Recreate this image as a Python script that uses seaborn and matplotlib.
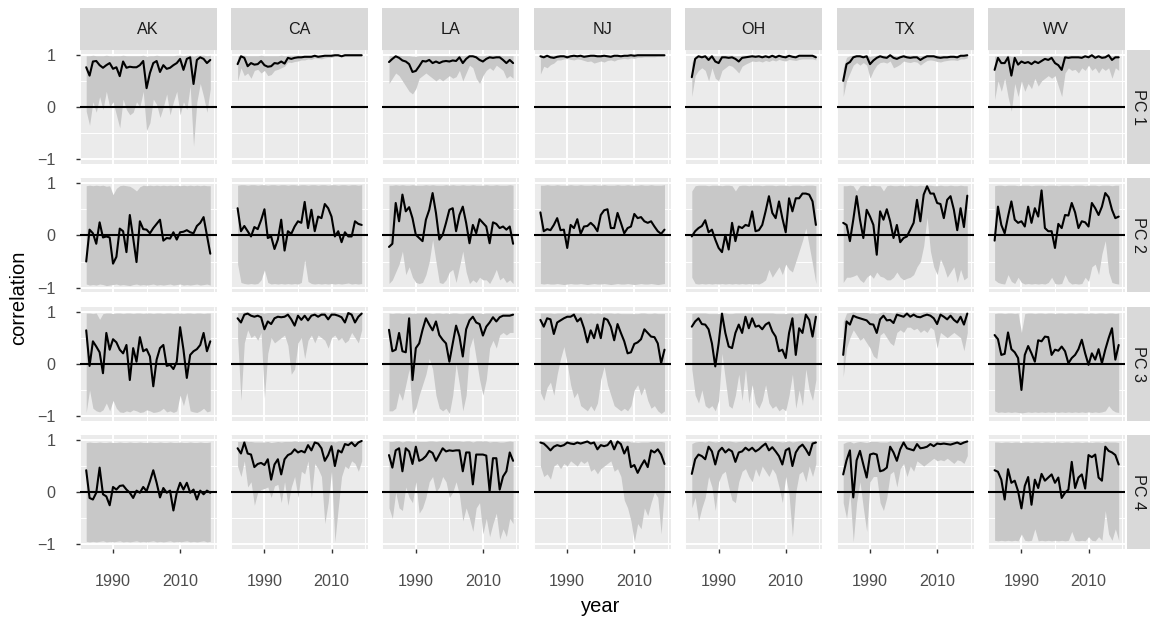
#!/usr/bin/env python
# Rolling correlation by state and principal component, ggplot-like facet grid.

import matplotlib
matplotlib.use('Agg')
from matplotlib import pyplot as plt
import pandas as pd
import seaborn as sns

YEARS = list(range(1982, 2020))
STATES = ['AK', 'CA', 'LA', 'NJ', 'OH', 'TX', 'WV']
PCS = ['PC 1', 'PC 2', 'PC 3', 'PC 4']
Y_TICKS = [-1, 0, 1]
Y_TICK_LABELS = ['\u22121', '0', '1']
X_TICKS = [1990, 2010]
X_TICK_LABELS = ['1990', '2010']

# ---- PC 1 ----
ak_pc1 = [0.76, 0.60, 0.87, 0.88, 0.80, 0.75, 0.80, 0.84, 0.73, 0.76, 0.59, 0.87, 0.75, 0.77, 0.76, 0.76, 0.80, 0.88, 0.36,
          0.65, 0.84, 0.88, 0.67, 0.80, 0.73, 0.75, 0.80, 0.84, 0.92, 0.71, 0.92, 0.95, 0.44, 0.90, 0.95, 0.92, 0.84, 0.90]
ak_pc1_lo = [-0.08, -0.35, 0.10, -0.10, 0.20, -0.05, 0.30, 0.00, 0.10, -0.15, -0.40, 0.15, -0.05, -0.15, -0.10, 0.10, 0.00, 0.30, -0.45,
             -0.30, 0.15, 0.05, -0.20, 0.00, 0.25, -0.15, 0.10, 0.30, -0.15, 0.10, -0.05, 0.40, -0.75, 0.10, 0.45, 0.20, -0.10, 0.35]
ak_pc1_hi = [0.98, 0.98, 0.99, 0.98, 0.98, 0.98, 0.99, 0.98, 0.98, 0.98, 0.98, 0.99, 0.98, 0.98, 0.98, 0.98, 0.98, 0.99, 0.97,
             0.98, 0.98, 0.99, 0.98, 0.98, 0.98, 0.98, 0.98, 0.99, 0.99, 0.98, 0.99, 0.99, 0.97, 0.99, 0.99, 0.99, 0.98, 0.99]
ca_pc1 = [0.82, 0.97, 0.94, 0.78, 0.84, 0.81, 0.82, 0.88, 0.80, 0.77, 0.78, 0.84, 0.83, 0.87, 0.83, 0.94, 0.92, 0.94, 0.95,
          0.95, 0.96, 0.96, 0.96, 0.98, 0.96, 0.97, 0.98, 0.98, 0.98, 0.99, 0.99, 0.97, 0.99, 0.99, 0.99, 0.99, 0.99, 0.99]
ca_pc1_lo = [0.50, 0.75, 0.60, 0.65, 0.55, 0.70, 0.72, 0.65, 0.70, 0.60, 0.62, 0.70, 0.72, 0.75, 0.78, 0.86, 0.85, 0.87, 0.88,
             0.90, 0.90, 0.92, 0.91, 0.94, 0.93, 0.92, 0.94, 0.95, 0.95, 0.97, 0.97, 0.96, 0.97, 0.97, 0.97, 0.97, 0.97, 0.97]
ca_pc1_hi = [0.97, 0.99, 0.99, 0.98, 0.98, 0.98, 0.98, 0.99, 0.98, 0.98, 0.98, 0.98, 0.98, 0.99, 0.98, 0.99, 0.99, 0.99, 0.99,
             0.99, 0.99, 0.99, 0.99, 0.995, 0.99, 0.99, 0.995, 0.995, 0.995, 0.995, 0.995, 0.99, 0.995, 0.995, 0.995, 0.995, 0.995, 0.995]
la_pc1 = [0.86, 0.92, 0.97, 0.94, 0.89, 0.87, 0.82, 0.67, 0.69, 0.78, 0.88, 0.87, 0.90, 0.84, 0.87, 0.84, 0.87, 0.88, 0.87,
          0.89, 0.88, 0.95, 0.84, 0.92, 0.97, 0.97, 0.95, 0.90, 0.87, 0.92, 0.95, 0.94, 0.95, 0.95, 0.90, 0.84, 0.90, 0.84]
la_pc1_lo = [0.45, 0.55, 0.65, 0.60, 0.50, 0.40, 0.30, 0.25, 0.35, 0.55, 0.60, 0.65, 0.60, 0.55, 0.50, 0.55, 0.50, 0.55, 0.60,
             0.55, 0.58, 0.70, 0.50, 0.65, 0.80, 0.75, 0.55, 0.45, 0.60, 0.70, 0.75, 0.70, 0.80, 0.75, 0.70, 0.55, 0.60, 0.55]
la_pc1_hi = [0.98, 0.98, 0.99, 0.99, 0.98, 0.98, 0.98, 0.97, 0.97, 0.98, 0.98, 0.98, 0.98, 0.98, 0.98, 0.98, 0.98, 0.98, 0.98,
             0.98, 0.98, 0.99, 0.98, 0.99, 0.99, 0.99, 0.99, 0.98, 0.98, 0.99, 0.99, 0.99, 0.99, 0.99, 0.98, 0.98, 0.98, 0.98]
nj_pc1 = [0.97, 0.95, 0.98, 0.95, 0.94, 0.96, 0.97, 0.97, 0.95, 0.97, 0.98, 0.97, 0.98, 0.96, 0.97, 0.98, 0.98, 0.97, 0.97,
          0.98, 0.97, 0.96, 0.98, 0.98, 0.97, 0.98, 0.98, 0.99, 0.98, 0.99, 0.99, 0.99, 0.99, 0.99, 0.99, 0.99, 0.99, 0.99]
nj_pc1_lo = [0.63, 0.78, 0.75, 0.81, 0.84, 0.90, 0.90, 0.92, 0.93, 0.91, 0.90, 0.92, 0.91, 0.89, 0.87, 0.88, 0.84, 0.86, 0.88,
             0.86, 0.89, 0.90, 0.88, 0.91, 0.92, 0.93, 0.92, 0.94, 0.93, 0.95, 0.95, 0.96, 0.96, 0.96, 0.96, 0.97, 0.97, 0.97]
nj_pc1_hi = [0.99, 0.99, 0.995, 0.99, 0.99, 0.99, 0.99, 0.99, 0.99, 0.99, 0.995, 0.99, 0.995, 0.99, 0.99, 0.995, 0.995, 0.99, 0.99,
             0.995, 0.99, 0.99, 0.995, 0.995, 0.99, 0.995, 0.995, 0.995, 0.995, 0.995, 0.995, 0.995, 0.995, 0.995, 0.995, 0.995, 0.995, 0.995]
oh_pc1 = [0.57, 0.92, 0.97, 0.95, 0.97, 0.90, 0.97, 0.87, 0.84, 0.95, 0.95, 0.94, 0.95, 0.92, 0.87, 0.94, 0.95, 0.96, 0.97,
          0.96, 0.97, 0.95, 0.97, 0.95, 0.98, 0.95, 0.98, 0.96, 0.95, 0.98, 0.96, 0.95, 0.98, 0.98, 0.98, 0.98, 0.98, 0.95]
oh_pc1_lo = [0.20, 0.60, 0.70, 0.75, 0.70, 0.50, 0.75, 0.55, 0.50, 0.70, 0.75, 0.80, 0.78, 0.72, 0.65, 0.78, 0.82, 0.85, 0.88,
             0.87, 0.88, 0.86, 0.89, 0.87, 0.90, 0.88, 0.91, 0.89, 0.88, 0.91, 0.90, 0.89, 0.91, 0.92, 0.92, 0.92, 0.92, 0.90]
oh_pc1_hi = [0.85, 0.98, 0.99, 0.99, 0.99, 0.98, 0.99, 0.98, 0.98, 0.99, 0.99, 0.99, 0.99, 0.98, 0.98, 0.99, 0.99, 0.99, 0.99,
             0.99, 0.99, 0.99, 0.99, 0.99, 0.995, 0.99, 0.995, 0.99, 0.99, 0.995, 0.99, 0.99, 0.995, 0.995, 0.995, 0.995, 0.995, 0.99]
tx_pc1 = [0.50, 0.82, 0.86, 0.95, 0.97, 0.97, 0.95, 0.97, 0.82, 0.89, 0.94, 0.97, 0.95, 0.94, 0.99, 0.94, 0.92, 0.95, 0.97,
          0.95, 0.94, 0.95, 0.95, 0.90, 0.94, 0.97, 0.97, 0.97, 0.95, 0.94, 0.95, 0.95, 0.96, 0.96, 0.95, 0.98, 0.98, 0.99]
tx_pc1_lo = [0.20, 0.50, 0.65, 0.80, 0.85, 0.80, 0.85, 0.80, 0.55, 0.70, 0.80, 0.85, 0.86, 0.84, 0.88, 0.75, 0.78, 0.82, 0.88,
             0.86, 0.85, 0.87, 0.86, 0.80, 0.85, 0.89, 0.90, 0.89, 0.87, 0.86, 0.88, 0.89, 0.90, 0.90, 0.89, 0.92, 0.92, 0.94]
tx_pc1_hi = [0.75, 0.95, 0.98, 0.99, 0.99, 0.99, 0.99, 0.99, 0.97, 0.98, 0.99, 0.99, 0.99, 0.99, 0.995, 0.99, 0.98, 0.99, 0.99,
             0.99, 0.99, 0.99, 0.99, 0.98, 0.99, 0.99, 0.99, 0.99, 0.99, 0.99, 0.99, 0.99, 0.99, 0.99, 0.99, 0.995, 0.995, 0.995]
wv_pc1 = [0.71, 0.94, 0.84, 0.84, 0.95, 0.60, 0.94, 0.81, 0.87, 0.84, 0.86, 0.82, 0.87, 0.84, 0.88, 0.92, 0.90, 0.94, 0.84,
          0.80, 0.71, 0.95, 0.94, 0.95, 0.95, 0.95, 0.94, 0.97, 0.95, 0.99, 0.94, 0.97, 0.94, 0.95, 0.99, 0.90, 0.95, 0.95]
wv_pc1_lo = [0.14, 0.50, 0.30, 0.55, 0.20, -0.08, 0.45, 0.20, 0.50, 0.30, 0.45, 0.35, 0.55, 0.40, 0.50, 0.55, 0.60, 0.55, 0.60,
             0.40, 0.20, 0.65, 0.75, 0.70, 0.72, 0.65, 0.75, 0.70, 0.80, 0.70, 0.75, 0.65, 0.75, 0.70, 0.75, 0.55, 0.75, 0.70]
wv_pc1_hi = [0.97, 0.98, 0.98, 0.98, 0.99, 0.97, 0.98, 0.98, 0.98, 0.98, 0.98, 0.98, 0.98, 0.98, 0.98, 0.98, 0.98, 0.98, 0.98,
             0.98, 0.97, 0.99, 0.99, 0.99, 0.99, 0.99, 0.99, 0.99, 0.99, 0.995, 0.99, 0.99, 0.99, 0.99, 0.995, 0.98, 0.99, 0.99]

# ---- PC 2 ----
ak_pc2 = [-0.50, 0.11, 0.04, -0.16, 0.25, -0.04, -0.02, -0.04, -0.54, -0.41, 0.13, 0.08, -0.32, 0.39, -0.05, -0.51, 0.27, 0.12, 0.11,
          0.04, 0.14, 0.22, 0.30, -0.10, -0.05, -0.06, 0.06, -0.08, 0.06, 0.07, 0.10, 0.06, 0.04, 0.18, 0.24, 0.35, 0.00, -0.35]
ak_pc2_lo = [-0.93, -0.95, -0.94, -0.95, -0.93, -0.94, -0.96, -0.95, -0.94, -0.93, -0.95, -0.94, -0.95, -0.96, -0.94, -0.93, -0.95, -0.94, -0.95,
             -0.94, -0.93, -0.95, -0.94, -0.95, -0.94, -0.93, -0.95, -0.94, -0.93, -0.95, -0.94, -0.95, -0.94, -0.93, -0.95, -0.94, -0.93, -0.95]
ak_pc2_hi = [0.95, 0.96, 0.95, 0.96, 0.95, 0.96, 0.94, 0.95, 0.78, 0.90, 0.95, 0.96, 0.95, 0.94, 0.90, 0.85, 0.93, 0.96, 0.95,
             0.96, 0.95, 0.96, 0.95, 0.96, 0.95, 0.96, 0.95, 0.96, 0.95, 0.96, 0.95, 0.96, 0.95, 0.96, 0.95, 0.96, 0.95, 0.95]
ca_pc2 = [0.52, 0.08, 0.18, 0.08, -0.02, 0.16, 0.12, 0.29, 0.50, -0.05, -0.02, -0.26, -0.08, 0.30, -0.29, 0.08, 0.03, 0.17, 0.27,
          0.24, 0.64, 0.14, 0.49, 0.08, 0.36, 0.33, 0.60, 0.52, 0.36, -0.02, 0.08, -0.13, 0.06, -0.02, -0.02, 0.27, 0.22, 0.20]
ca_pc2_lo = [-0.55, -0.90, -0.92, -0.93, -0.92, -0.93, -0.92, -0.85, -0.66, -0.90, -0.93, -0.92, -0.93, -0.92, -0.93, -0.92, -0.93, -0.92, -0.93,
             -0.90, -0.46, -0.88, -0.92, -0.93, -0.92, -0.93, -0.92, -0.93, -0.92, -0.93, -0.92, -0.93, -0.92, -0.91, -0.93, -0.92, -0.93, -0.92]
ca_pc2_hi = [0.96, 0.97, 0.97, 0.96, 0.97, 0.97, 0.96, 0.97, 0.97, 0.96, 0.97, 0.97, 0.96, 0.97, 0.97, 0.96, 0.97, 0.97, 0.96,
             0.97, 0.97, 0.96, 0.97, 0.97, 0.96, 0.97, 0.97, 0.96, 0.97, 0.97, 0.96, 0.97, 0.97, 0.96, 0.97, 0.97, 0.96, 0.97]
la_pc2 = [-0.22, -0.16, 0.62, 0.27, 0.78, 0.46, 0.54, 0.33, 0.01, -0.05, -0.11, 0.30, 0.49, 0.81, 0.43, -0.08, 0.01, 0.24, 0.49,
          0.52, 0.08, 0.39, 0.55, 0.24, -0.15, 0.20, 0.04, 0.31, 0.24, 0.17, -0.15, 0.25, 0.22, 0.14, 0.17, 0.11, 0.17, -0.16]
la_pc2_lo = [-0.92, -0.85, -0.70, -0.55, -0.30, -0.75, -0.60, -0.80, -0.90, -0.92, -0.90, -0.75, -0.50, -0.08, -0.50, -0.90, -0.92, -0.85, -0.70,
             -0.65, -0.90, -0.60, -0.30, -0.70, -0.92, -0.85, -0.90, -0.80, -0.85, -0.85, -0.92, -0.80, -0.65, -0.85, -0.80, -0.90, -0.85, -0.92]
la_pc2_hi = [0.96, 0.96, 0.97, 0.96, 0.97, 0.96, 0.96, 0.97, 0.96, 0.96, 0.96, 0.97, 0.96, 0.97, 0.96, 0.96, 0.96, 0.97, 0.96,
             0.97, 0.96, 0.96, 0.97, 0.96, 0.96, 0.97, 0.96, 0.96, 0.96, 0.97, 0.96, 0.96, 0.97, 0.96, 0.96, 0.96, 0.97, 0.96]
nj_pc2 = [0.44, 0.08, 0.12, 0.10, 0.20, 0.33, 0.10, 0.11, -0.24, 0.20, 0.14, 0.31, 0.03, 0.17, 0.18, 0.24, 0.18, 0.08, 0.39,
          0.48, 0.50, 0.14, 0.14, 0.43, 0.24, 0.04, 0.14, 0.17, 0.41, 0.33, 0.35, 0.27, 0.24, 0.27, 0.17, 0.08, 0.03, 0.11]
nj_pc2_lo = [-0.92, -0.93, -0.92, -0.93, -0.93, -0.92, -0.93, -0.94, -0.93, -0.92, -0.93, -0.93, -0.92, -0.93, -0.94, -0.93, -0.92, -0.93, -0.93,
             -0.92, -0.93, -0.94, -0.93, -0.92, -0.93, -0.93, -0.92, -0.93, -0.94, -0.93, -0.92, -0.93, -0.93, -0.92, -0.93, -0.94, -0.93, -0.92]
nj_pc2_hi = [0.96, 0.96, 0.97, 0.96, 0.96, 0.97, 0.96, 0.96, 0.96, 0.97, 0.96, 0.96, 0.97, 0.96, 0.96, 0.96, 0.97, 0.96, 0.96,
             0.97, 0.96, 0.96, 0.96, 0.97, 0.96, 0.96, 0.97, 0.96, 0.96, 0.96, 0.97, 0.96, 0.96, 0.97, 0.96, 0.96, 0.96, 0.97]
oh_pc2 = [-0.02, 0.08, 0.14, 0.18, 0.29, 0.06, 0.11, -0.08, -0.24, -0.32, 0.01, -0.27, 0.24, -0.11, 0.17, 0.14, 0.20, 0.18, 0.46,
          0.08, 0.10, 0.20, 0.46, 0.75, 0.43, 0.33, 0.65, 0.33, 0.06, 0.71, 0.46, 0.71, 0.71, 0.80, 0.80, 0.78, 0.65, 0.20]
oh_pc2_lo = [-0.80, -0.92, -0.93, -0.92, -0.93, -0.92, -0.93, -0.92, -0.93, -0.92, -0.93, -0.92, -0.93, -0.92, -0.93, -0.92, -0.93, -0.92, -0.93,
             -0.92, -0.93, -0.90, -0.85, -0.65, -0.80, -0.70, -0.60, -0.75, -0.55, -0.65, -0.70, -0.50, -0.30, -0.10, 0.14, -0.20, -0.55, -0.92]
oh_pc2_hi = [0.85, 0.95, 0.96, 0.96, 0.96, 0.95, 0.96, 0.96, 0.96, 0.95, 0.96, 0.96, 0.95, 0.85, 0.95, 0.96, 0.96, 0.95, 0.96,
             0.96, 0.96, 0.95, 0.96, 0.96, 0.96, 0.95, 0.96, 0.96, 0.96, 0.95, 0.96, 0.96, 0.96, 0.95, 0.96, 0.96, 0.96, 0.95]
tx_pc2 = [0.24, 0.20, -0.11, 0.30, 0.75, 0.30, -0.05, 0.49, 0.36, 0.20, -0.37, 0.46, 0.30, 0.50, 0.27, -0.05, 0.20, -0.13, -0.05,
          -0.02, 0.11, 0.24, 0.68, 0.27, 0.78, 0.94, 0.80, 0.80, 0.62, 0.60, 0.33, 0.68, 0.75, 0.49, 0.10, 0.52, 0.16, 0.76]
tx_pc2_lo = [-0.90, -0.80, -0.80, -0.78, -0.75, -0.85, -0.90, -0.80, -0.75, -0.82, -0.70, -0.78, -0.80, -0.85, -0.85, -0.80, -0.70, -0.80, -0.85,
             -0.82, -0.80, -0.75, -0.60, -0.50, -0.20, 0.35, -0.30, -0.60, -0.75, -0.45, -0.60, -0.80, -0.70, -0.60, -0.90, -0.65, -0.85, -0.80]
tx_pc2_hi = [0.95, 0.95, 0.96, 0.95, 0.85, 0.95, 0.96, 0.95, 0.95, 0.96, 0.95, 0.95, 0.85, 0.95, 0.96, 0.95, 0.95, 0.96, 0.95,
             0.95, 0.96, 0.95, 0.95, 0.96, 0.95, 0.96, 0.96, 0.95, 0.95, 0.96, 0.95, 0.95, 0.96, 0.95, 0.95, 0.96, 0.95, 0.95]
wv_pc2 = [-0.10, 0.55, 0.20, 0.04, 0.36, 0.65, 0.30, 0.24, 0.27, 0.17, 0.55, 0.24, 0.52, 0.36, 0.86, 0.14, 0.08, 0.08, -0.24,
          0.22, 0.14, 0.39, 0.38, 0.62, 0.44, 0.14, 0.27, 0.25, 0.17, 0.62, 0.52, 0.39, 0.55, 0.81, 0.73, 0.49, 0.33, 0.36]
wv_pc2_lo = [-0.85, -0.90, -0.92, -0.93, -0.75, -0.88, -0.92, -0.80, -0.90, -0.93, -0.92, -0.93, -0.92, -0.93, -0.92, -0.93, -0.90, -0.80, -0.92,
             -0.93, -0.92, -0.75, -0.88, -0.93, -0.92, -0.93, -0.92, -0.80, -0.88, -0.60, -0.55, -0.75, -0.35, -0.10, -0.70, -0.90, -0.92, -0.93]
wv_pc2_hi = [0.95, 0.96, 0.96, 0.95, 0.96, 0.96, 0.96, 0.95, 0.96, 0.96, 0.96, 0.95, 0.96, 0.96, 0.96, 0.95, 0.96, 0.96, 0.96,
             0.95, 0.96, 0.96, 0.96, 0.95, 0.96, 0.96, 0.96, 0.95, 0.96, 0.96, 0.96, 0.95, 0.96, 0.96, 0.96, 0.95, 0.96, 0.96]

# ---- PC 3 ----
ak_pc3 = [0.64, -0.04, 0.43, 0.33, 0.22, -0.18, 0.59, 0.27, 0.47, 0.41, 0.27, 0.20, 0.36, -0.31, 0.30, 0.04, 0.51, 0.24, 0.28,
          0.14, -0.43, 0.08, 0.30, 0.36, -0.04, -0.02, -0.10, 0.04, 0.70, 0.27, -0.27, 0.17, 0.24, 0.28, 0.36, 0.59, 0.24, 0.43]
ak_pc3_lo = [-0.93, -0.50, -0.85, -0.90, -0.92, -0.88, -0.75, -0.90, -0.70, -0.85, -0.92, -0.93, -0.90, -0.92, -0.88, -0.90, -0.93, -0.92, -0.88,
             -0.90, -0.93, -0.92, -0.90, -0.85, -0.92, -0.90, -0.93, -0.90, -0.60, -0.80, -0.55, -0.90, -0.92, -0.93, -0.90, -0.85, -0.92, -0.90]
ak_pc3_hi = [0.97, 0.97, 0.96, 0.97, 0.85, 0.96, 0.97, 0.97, 0.96, 0.97, 0.97, 0.96, 0.97, 0.97, 0.96, 0.97, 0.97, 0.96, 0.97,
             0.97, 0.96, 0.97, 0.97, 0.96, 0.97, 0.97, 0.96, 0.97, 0.97, 0.96, 0.97, 0.97, 0.96, 0.97, 0.97, 0.96, 0.97, 0.97]
ca_pc3 = [0.87, 0.79, 0.94, 0.96, 0.92, 0.90, 0.92, 0.89, 0.66, 0.81, 0.76, 0.87, 0.90, 0.89, 0.90, 0.94, 0.85, 0.73, 0.92,
          0.84, 0.92, 0.83, 0.92, 0.94, 0.90, 0.94, 0.94, 0.85, 0.94, 0.94, 0.92, 0.89, 0.79, 0.97, 0.94, 0.79, 0.90, 0.96]
ca_pc3_lo = [0.50, -0.70, 0.40, 0.65, 0.50, 0.55, 0.45, 0.60, -0.65, 0.20, 0.50, 0.40, 0.45, 0.50, 0.55, 0.35, -0.20, -0.10, 0.40,
             0.50, 0.10, 0.45, 0.55, 0.40, 0.55, 0.50, 0.45, 0.30, 0.50, 0.55, 0.45, 0.50, 0.40, 0.45, 0.60, 0.50, 0.40, 0.65]
ca_pc3_hi = [0.98, 0.98, 0.99, 0.99, 0.98, 0.98, 0.98, 0.98, 0.97, 0.98, 0.98, 0.98, 0.98, 0.98, 0.98, 0.99, 0.98, 0.97, 0.98,
             0.98, 0.98, 0.98, 0.98, 0.99, 0.98, 0.99, 0.99, 0.98, 0.99, 0.99, 0.98, 0.98, 0.98, 0.99, 0.99, 0.98, 0.98, 0.99]
la_pc3 = [0.65, 0.24, 0.27, 0.59, 0.24, 0.22, 0.87, -0.31, 0.30, 0.39, 0.65, 0.87, 0.75, 0.64, 0.81, 0.55, 0.46, 0.39, 0.04,
          0.39, 0.73, 0.52, 0.14, 0.66, 0.83, 0.90, 0.79, 0.76, 0.54, 0.71, 0.79, 0.89, 0.81, 0.89, 0.92, 0.92, 0.92, 0.94]
la_pc3_lo = [-0.90, -0.90, -0.85, -0.55, -0.70, -0.40, -0.10, -0.95, -0.85, -0.60, -0.40, -0.20, 0.10, -0.10, -0.60, -0.85, -0.90, -0.85, -0.95,
             -0.60, 0.00, -0.40, -0.90, -0.60, 0.30, 0.50, 0.10, -0.30, -0.60, -0.30, 0.30, 0.45, 0.30, 0.55, 0.60, 0.55, 0.60, 0.60]
la_pc3_hi = [0.97, 0.96, 0.97, 0.97, 0.96, 0.97, 0.97, 0.96, 0.97, 0.97, 0.97, 0.97, 0.97, 0.96, 0.97, 0.97, 0.96, 0.97, 0.96,
             0.97, 0.97, 0.96, 0.96, 0.97, 0.97, 0.97, 0.97, 0.97, 0.96, 0.97, 0.97, 0.97, 0.97, 0.97, 0.97, 0.97, 0.97, 0.97]
nj_pc3 = [0.84, 0.71, 0.87, 0.85, 0.57, 0.79, 0.83, 0.87, 0.90, 0.90, 0.94, 0.81, 0.87, 0.68, 0.41, 0.64, 0.49, 0.75, 0.49,
          0.87, 0.84, 0.71, 0.45, 0.76, 0.59, 0.43, 0.20, 0.22, 0.38, 0.41, 0.47, 0.66, 0.59, 0.52, 0.51, 0.39, 0.01, 0.27]
nj_pc3_lo = [-0.55, -0.70, -0.45, -0.35, -0.60, -0.20, 0.10, 0.33, 0.00, -0.40, -0.65, -0.55, -0.80, -0.85, -0.90, -0.80, -0.90, -0.75, -0.30,
             -0.05, -0.40, -0.60, -0.80, -0.85, -0.90, -0.85, -0.90, -0.80, -0.50, -0.40, -0.60, -0.45, -0.70, -0.85, -0.80, -0.90, -0.95, -0.90]
nj_pc3_hi = [0.97, 0.97, 0.97, 0.97, 0.96, 0.97, 0.97, 0.97, 0.97, 0.97, 0.98, 0.97, 0.97, 0.97, 0.96, 0.97, 0.96, 0.97, 0.96,
             0.97, 0.97, 0.97, 0.96, 0.97, 0.96, 0.96, 0.96, 0.96, 0.96, 0.96, 0.97, 0.97, 0.96, 0.96, 0.97, 0.96, 0.96, 0.96]
oh_pc3 = [0.71, 0.81, 0.87, 0.76, 0.75, 0.66, 0.39, -0.05, 0.39, 0.96, 0.59, 0.33, 0.30, 0.59, 0.75, 0.59, 0.90, 0.68, 0.87,
          0.71, 0.73, 0.66, 0.75, 0.79, 0.62, 0.52, 0.24, 0.27, 0.11, 0.59, 0.87, 0.17, 0.68, 0.59, 0.94, 0.84, 0.52, 0.90]
oh_pc3_lo = [-0.10, -0.60, -0.75, -0.50, -0.80, -0.85, -0.80, -0.90, -0.70, 0.20, -0.30, -0.80, -0.85, -0.60, -0.20, -0.70, -0.10, -0.75, -0.40,
             -0.75, -0.85, -0.70, -0.40, -0.75, -0.85, -0.80, -0.90, -0.85, -0.90, -0.60, -0.20, -0.85, -0.50, -0.80, -0.10, -0.50, -0.70, -0.30]
oh_pc3_hi = [0.96, 0.97, 0.97, 0.97, 0.97, 0.96, 0.96, 0.96, 0.96, 0.98, 0.97, 0.96, 0.96, 0.97, 0.97, 0.97, 0.97, 0.97, 0.97,
             0.97, 0.97, 0.97, 0.97, 0.97, 0.97, 0.96, 0.96, 0.96, 0.96, 0.97, 0.97, 0.96, 0.97, 0.97, 0.98, 0.97, 0.97, 0.97]
tx_pc3 = [0.17, 0.81, 0.75, 0.92, 0.89, 0.87, 0.85, 0.83, 0.76, 0.75, 0.59, 0.85, 0.92, 0.83, 0.84, 0.78, 0.94, 0.92, 0.90,
          0.96, 0.90, 0.94, 0.90, 0.89, 0.92, 0.94, 0.92, 0.87, 0.76, 0.94, 0.90, 0.85, 0.92, 0.84, 0.79, 0.90, 0.75, 0.96]
tx_pc3_lo = [-0.25, 0.30, 0.50, 0.65, 0.55, 0.45, 0.50, 0.40, 0.30, 0.15, 0.10, 0.55, 0.60, 0.50, 0.40, 0.35, 0.60, 0.65, 0.60,
             0.70, 0.70, 0.65, 0.68, 0.60, 0.65, 0.60, 0.70, 0.65, 0.30, 0.60, 0.55, 0.50, 0.55, 0.60, 0.55, 0.50, 0.25, 0.60]
tx_pc3_hi = [0.80, 0.97, 0.98, 0.99, 0.98, 0.98, 0.98, 0.98, 0.97, 0.97, 0.96, 0.98, 0.99, 0.98, 0.98, 0.97, 0.99, 0.99, 0.98,
             0.99, 0.98, 0.99, 0.98, 0.98, 0.99, 0.99, 0.99, 0.98, 0.97, 0.99, 0.98, 0.98, 0.99, 0.98, 0.97, 0.98, 0.97, 0.99]
wv_pc3 = [0.55, 0.47, 0.17, 0.19, 0.60, 0.28, 0.22, 0.11, -0.50, 0.17, 0.34, 0.20, 0.04, 0.45, 0.43, 0.52, 0.51, 0.17, 0.27,
          0.25, 0.33, 0.24, 0.01, 0.11, 0.17, 0.28, 0.46, 0.20, -0.02, 0.20, 0.08, 0.28, 0.01, 0.27, 0.49, 0.68, 0.08, 0.36]
wv_pc3_lo = [-0.90, -0.93, -0.92, -0.93, -0.92, -0.93, -0.92, -0.93, -0.94, -0.93, -0.92, -0.93, -0.92, -0.93, -0.92, -0.93, -0.92, -0.93, -0.92,
             -0.93, -0.92, -0.93, -0.92, -0.93, -0.92, -0.93, -0.92, -0.93, -0.92, -0.93, -0.92, -0.93, -0.92, -0.90, -0.80, -0.88, -0.92, -0.93]
wv_pc3_hi = [0.96, 0.97, 0.97, 0.96, 0.97, 0.97, 0.96, 0.97, 0.60, 0.96, 0.97, 0.97, 0.96, 0.97, 0.97, 0.96, 0.97, 0.97, 0.96,
             0.97, 0.97, 0.96, 0.97, 0.97, 0.96, 0.97, 0.97, 0.96, 0.97, 0.97, 0.96, 0.97, 0.97, 0.96, 0.97, 0.97, 0.96, 0.97]

# ---- PC 4 ----
ak_pc4 = [0.42, -0.11, -0.14, -0.01, 0.47, -0.04, -0.08, -0.25, 0.10, 0.05, 0.12, 0.13, 0.05, -0.01, -0.11, 0.03, -0.01, 0.10, 0.02,
          0.21, 0.42, 0.18, -0.10, 0.08, -0.01, 0.03, -0.35, -0.01, 0.18, 0.05, 0.18, -0.01, 0.05, -0.14, 0.03, -0.04, 0.03, -0.01]
ak_pc4_lo = [-0.94, -0.95, -0.94, -0.95, -0.94, -0.93, -0.95, -0.94, -0.95, -0.94, -0.93, -0.95, -0.94, -0.95, -0.94, -0.93, -0.95, -0.94, -0.95,
             -0.94, -0.93, -0.95, -0.94, -0.95, -0.94, -0.93, -0.95, -0.94, -0.95, -0.94, -0.93, -0.95, -0.94, -0.95, -0.94, -0.93, -0.95, -0.94]
ak_pc4_hi = [0.95, 0.96, 0.95, 0.95, 0.96, 0.95, 0.95, 0.96, 0.95, 0.95, 0.96, 0.95, 0.95, 0.96, 0.95, 0.95, 0.96, 0.95, 0.95,
             0.96, 0.95, 0.95, 0.96, 0.95, 0.95, 0.96, 0.95, 0.95, 0.96, 0.95, 0.95, 0.96, 0.95, 0.95, 0.96, 0.95, 0.95, 0.96]
ca_pc4 = [0.84, 0.74, 0.95, 0.74, 0.72, 0.48, 0.54, 0.56, 0.52, 0.63, 0.24, 0.53, 0.63, 0.34, 0.63, 0.71, 0.74, 0.82, 0.76,
          0.79, 0.76, 0.90, 0.80, 0.95, 0.93, 0.84, 0.60, 0.71, 0.88, 0.50, 0.80, 0.76, 0.92, 0.90, 0.95, 0.88, 0.95, 0.98]
ca_pc4_lo = [0.50, 0.30, 0.60, 0.10, 0.20, -0.25, 0.00, 0.05, 0.07, 0.10, -0.10, 0.12, 0.15, -0.20, 0.20, -0.25, 0.10, 0.30, -0.10,
             0.40, 0.35, 0.60, -0.10, 0.55, 0.45, 0.30, -0.60, -0.20, 0.40, -0.95, -0.30, 0.30, 0.50, 0.45, 0.60, 0.55, 0.40, 0.60]
ca_pc4_hi = [0.97, 0.97, 0.99, 0.97, 0.97, 0.96, 0.96, 0.96, 0.96, 0.97, 0.95, 0.96, 0.97, 0.96, 0.97, 0.97, 0.97, 0.98, 0.97,
             0.97, 0.97, 0.98, 0.98, 0.99, 0.98, 0.98, 0.97, 0.97, 0.98, 0.96, 0.98, 0.98, 0.98, 0.98, 0.99, 0.98, 0.99, 0.995]
la_pc4 = [0.71, 0.47, 0.80, 0.84, 0.40, 0.84, 0.78, 0.54, 0.87, 0.60, 0.63, 0.69, 0.79, 0.75, 0.60, 0.72, 0.84, 0.78, 0.80,
          0.79, 0.80, 0.80, 0.40, 0.76, 0.76, 0.15, 0.72, 0.72, 0.72, 0.70, 0.02, 0.65, 0.65, 0.05, 0.30, 0.40, 0.76, 0.60]
la_pc4_lo = [-0.30, -0.50, 0.00, -0.30, -0.35, 0.10, -0.10, -0.20, 0.20, -0.40, -0.30, -0.10, 0.20, 0.30, 0.00, 0.10, 0.30, 0.20, -0.10,
             0.00, 0.20, -0.05, -0.55, -0.30, -0.50, -0.75, -0.30, -0.20, -0.80, -0.50, -0.85, -0.60, -0.40, -0.90, -0.70, -0.85, -0.50, -0.60]
la_pc4_hi = [0.97, 0.97, 0.98, 0.98, 0.96, 0.98, 0.98, 0.97, 0.98, 0.97, 0.97, 0.97, 0.98, 0.98, 0.97, 0.98, 0.98, 0.98, 0.98,
             0.98, 0.98, 0.98, 0.97, 0.98, 0.98, 0.96, 0.98, 0.98, 0.98, 0.98, 0.96, 0.97, 0.97, 0.96, 0.96, 0.97, 0.98, 0.97]
nj_pc4 = [0.95, 0.93, 0.87, 0.80, 0.87, 0.90, 0.88, 0.90, 0.95, 0.93, 0.92, 0.95, 0.93, 0.95, 0.97, 0.93, 0.95, 0.82, 0.90,
          0.88, 0.90, 0.98, 0.82, 0.97, 0.92, 0.74, 0.87, 0.48, 0.52, 0.37, 0.50, 0.61, 0.48, 0.80, 0.76, 0.82, 0.72, 0.54]
nj_pc4_lo = [0.50, 0.30, 0.35, 0.25, 0.50, 0.55, 0.45, 0.55, 0.50, 0.60, 0.55, 0.50, 0.60, 0.55, 0.60, 0.40, 0.45, 0.35, 0.45,
             0.50, 0.55, 0.60, 0.40, 0.45, 0.30, -0.15, -0.30, -0.55, -0.95, -0.60, -0.70, -0.30, -0.45, -0.20, 0.00, -0.10, -0.80, 0.10]
nj_pc4_hi = [0.98, 0.98, 0.97, 0.97, 0.97, 0.98, 0.97, 0.98, 0.98, 0.98, 0.98, 0.98, 0.98, 0.98, 0.99, 0.98, 0.98, 0.97, 0.98,
             0.98, 0.98, 0.99, 0.97, 0.99, 0.98, 0.97, 0.98, 0.96, 0.96, 0.95, 0.96, 0.96, 0.96, 0.97, 0.97, 0.97, 0.97, 0.96]
oh_pc4 = [0.35, 0.63, 0.72, 0.69, 0.63, 0.87, 0.78, 0.53, 0.78, 0.85, 0.76, 0.82, 0.78, 0.58, 0.76, 0.78, 0.85, 0.80, 0.85,
          0.78, 0.82, 0.88, 0.93, 0.80, 0.86, 0.78, 0.69, 0.53, 0.80, 0.84, 0.50, 0.76, 0.86, 0.91, 0.82, 0.71, 0.93, 0.95]
oh_pc4_lo = [-0.30, -0.10, -0.55, -0.30, -0.10, 0.30, 0.10, -0.35, 0.20, 0.35, 0.40, 0.10, -0.15, -0.20, 0.20, 0.40, 0.45, 0.30, 0.20,
             0.45, 0.30, 0.50, 0.40, 0.30, 0.45, 0.35, 0.10, -0.20, 0.30, -0.05, -0.85, 0.00, 0.35, 0.40, 0.20, 0.50, 0.30, 0.55]
oh_pc4_hi = [0.93, 0.96, 0.97, 0.97, 0.96, 0.98, 0.97, 0.96, 0.97, 0.98, 0.97, 0.98, 0.97, 0.96, 0.97, 0.97, 0.98, 0.97, 0.98,
             0.97, 0.98, 0.98, 0.99, 0.98, 0.98, 0.97, 0.97, 0.96, 0.97, 0.98, 0.96, 0.97, 0.98, 0.98, 0.98, 0.97, 0.99, 0.99]
tx_pc4 = [0.34, 0.61, 0.80, -0.10, 0.61, 0.79, 0.53, 0.28, 0.72, 0.74, 0.72, 0.40, 0.42, 0.47, 0.87, 0.76, 0.60, 0.82, 0.95,
          0.84, 0.82, 0.80, 0.92, 0.84, 0.85, 0.87, 0.92, 0.88, 0.93, 0.92, 0.93, 0.92, 0.91, 0.93, 0.95, 0.92, 0.95, 0.97]
tx_pc4_lo = [-0.20, -0.50, 0.00, -0.95, -0.20, 0.20, -0.30, -0.75, 0.20, 0.30, 0.30, -0.20, -0.35, -0.10, 0.35, 0.40, 0.10, 0.45, 0.55,
             0.30, 0.50, 0.40, 0.60, 0.55, 0.50, 0.55, 0.60, 0.65, 0.60, 0.62, 0.60, 0.65, 0.60, 0.55, 0.62, 0.60, 0.55, 0.70]
tx_pc4_hi = [0.93, 0.96, 0.97, 0.94, 0.96, 0.97, 0.96, 0.95, 0.97, 0.97, 0.97, 0.96, 0.96, 0.96, 0.98, 0.97, 0.97, 0.98, 0.99,
             0.98, 0.98, 0.98, 0.99, 0.98, 0.98, 0.98, 0.99, 0.98, 0.99, 0.99, 0.99, 0.99, 0.99, 0.99, 0.99, 0.99, 0.99, 0.995]
wv_pc4 = [0.42, 0.39, 0.24, -0.14, 0.44, 0.18, 0.22, 0.02, -0.31, 0.12, 0.29, -0.24, 0.24, 0.08, 0.35, 0.22, 0.28, 0.34, 0.18,
          0.28, -0.11, -0.01, 0.05, 0.58, 0.08, 0.28, 0.34, 0.07, 0.71, 0.67, 0.72, 0.28, 0.22, 0.87, 0.79, 0.76, 0.71, 0.53]
wv_pc4_lo = [-0.92, -0.93, -0.92, -0.93, -0.92, -0.93, -0.92, -0.93, -0.80, -0.92, -0.93, -0.92, -0.70, -0.93, -0.92, -0.93, -0.92, -0.93, -0.92,
             -0.93, -0.92, -0.93, -0.92, -0.75, -0.92, -0.93, -0.92, -0.93, -0.85, -0.92, -0.93, -0.85, -0.92, -0.35, -0.80, -0.92, -0.70, -0.92]
wv_pc4_hi = [0.96, 0.96, 0.95, 0.96, 0.96, 0.95, 0.96, 0.96, 0.95, 0.96, 0.96, 0.95, 0.96, 0.96, 0.95, 0.96, 0.96, 0.95, 0.96,
             0.96, 0.95, 0.96, 0.96, 0.95, 0.96, 0.96, 0.95, 0.96, 0.96, 0.95, 0.96, 0.96, 0.95, 0.97, 0.96, 0.96, 0.96, 0.95]


def build_frame():
  """Long table: one row per state, component and year."""
  g = globals()
  parts = []
  for st in STATES:
    for pc in PCS:
      key = '%s_pc%s' % (st.lower(), pc[-1])
      parts.append(pd.DataFrame({
          'state': st, 'pc': pc, 'year': YEARS,
          'correlation': g[key], 'lo': g[key + '_lo'], 'hi': g[key + '_hi']}))
  return pd.concat(parts, ignore_index=True)


def px_box(x0, y0, w, h, W=1163.0, H=622.0):
  return [x0 / W, 1 - (y0 + h) / H, w / W, h / H]


def strip_axes(fig, box, label, rotation, fontsize):
  sax = fig.add_axes(box)
  sax.set_facecolor('#D9D9D9')
  sax.set_xticks([])
  sax.set_yticks([])
  sax.grid(False)
  for s in sax.spines.values():
    s.set_visible(False)
  sax.text(0.5, 0.5, label, ha='center', va='center', fontsize=fontsize,
           color='#1A1A1A', rotation=rotation, transform=sax.transAxes)


def main():
  data = build_frame()

  sns.set_style('darkgrid', {'axes.facecolor': '#EBEBEB', 'grid.color': 'white'})
  plt.rcParams['font.family'] = ['Liberation Sans', 'DejaVu Sans']

  fig = plt.figure(figsize=(11.63, 6.22), dpi=100)
  left, top = 79.5, 50.0
  pw, ph = 137.0, 114.0
  gap_x, gap_y = 14.4, 14.4
  tick_fs = 11.6
  title_fs = 14.5

  for r, pc in enumerate(PCS):
    for c, st in enumerate(STATES):
      x0 = left + c * (pw + gap_x)
      y0 = top + r * (ph + gap_y)
      ax = fig.add_axes(px_box(x0, y0, pw, ph))
      sub = data[(data.state == st) & (data.pc == pc)]
      ax.fill_between(sub.year, sub.lo, sub.hi, color='#C8C8C8', lw=0, zorder=1)
      ax.axhline(0, color='black', lw=1.5, zorder=2)
      sns.lineplot(data=sub, x='year', y='correlation', ax=ax, color='black',
                   lw=1.5, zorder=3, estimator=None)
      ax.set_xlim(1980.15, 2020.85)
      ax.set_ylim(-1.09, 1.09)
      ax.set_xticks(X_TICKS)
      ax.set_xticks([1980, 2000, 2020], minor=True)
      ax.set_yticks(Y_TICKS)
      ax.set_yticks([-0.5, 0.5], minor=True)
      ax.grid(which='major', color='white', lw=1.4)
      ax.grid(which='minor', color='white', lw=0.7)
      for s in ax.spines.values():
        s.set_visible(False)
      ax.set_xlabel('')
      ax.set_ylabel('')
      ax.tick_params(which='minor', length=0)
      ax.tick_params(which='major', length=3.2, width=1.0, color='#333333',
                     labelcolor='#4D4D4D', labelsize=tick_fs, pad=14)
      if c == 0:
        ax.set_yticklabels(Y_TICK_LABELS)
        ax.tick_params(axis='y', left=True)
      else:
        ax.tick_params(axis='y', left=False, labelleft=False)
      if r == len(PCS) - 1:
        ax.set_xticklabels(X_TICK_LABELS)
        ax.tick_params(axis='x', bottom=True, pad=15)
      else:
        ax.tick_params(axis='x', bottom=False, labelbottom=False)

      if r == 0:
        strip_axes(fig, px_box(x0, 8, pw, top - 8), st, 0, tick_fs)
      if c == len(STATES) - 1:
        strip_axes(fig, px_box(x0 + pw + 2.5, y0, 23, ph), pc, -90, tick_fs)

  fig.text(19 / 1163.0, 1 - 298 / 622.0, 'correlation', rotation=90,
           ha='center', va='center', fontsize=title_fs, color='black')
  fig.text(601 / 1163.0, 1 - 606 / 622.0, 'year', ha='center', va='center',
           fontsize=title_fs, color='black')

  fig.savefig('out.png', dpi=100, facecolor='white')
  plt.close('all')


if __name__ == '__main__':
  main()
